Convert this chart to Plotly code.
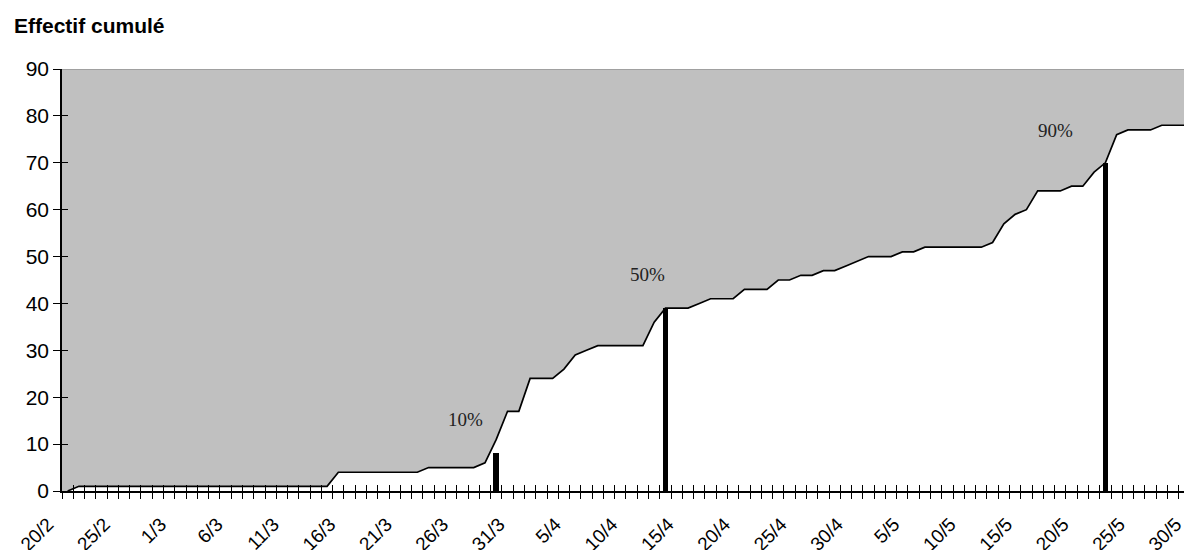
import pandas as pd
import plotly.graph_objects as go

# ---- data -------------------------------------------------------------
dates = [f"{d.day}/{d.month}" for d in pd.date_range("2000-02-20", "2000-05-30")]

cumul = [
    0,
    1, 1, 1, 1, 1, 1, 1, 1, 1, 1, 1, 1, 1, 1, 1, 1, 1, 1, 1, 1, 1, 1, 1,
    4, 4, 4, 4, 4, 4, 4, 4,
    5, 5, 5, 5, 5,
    6, 11, 17, 17,
    24, 24, 24,
    26, 29, 30,
    31, 31, 31, 31, 31,
    36, 39, 39, 39,
    40, 41, 41, 41,
    43, 43, 43,
    45, 45, 46, 46, 47, 47,
    48, 49,
    50, 50, 50, 51, 51,
    52, 52, 52, 52, 52, 52,
    53, 57, 59, 60,
    64, 64, 64, 65, 65,
    68, 70, 76,
    77, 77, 77,
    78, 78, 78, 78,
]

marker_dates = ["29/3", "13/4", "22/5"]
marker_values = [8, 39, 70]

pct_labels = ["10%", "50%", "90%"]
pct_dates = ["26/3", "11/4", "18/5"]
pct_levels = [15.3, 46.1, 76.8]

y_ticks = [0, 10, 20, 30, 40, 50, 60, 70, 80, 90]

# ---- derived positions / layout -----------------------------------------
idx = list(range(len(dates)))
bounds = [i - 0.5 for i in idx]
btext = [d if i % 5 == 0 else "" for i, d in enumerate(dates)]
mk_x = [dates.index(d) for d in marker_dates]
pct_shift = [0.3, 0.4, -0.4]
pct_x = [dates.index(d) + s for d, s in zip(pct_dates, pct_shift)]

OFF = 8  # default page body margin
L, T, B = 62 - OFF, 69 - OFF, 59
W, H = 1192 - OFF, 550 - OFF
PW, PH = W - L, H - T - B
XMAX = 99.68
SANS = "Liberation Sans, Arial, sans-serif"
SERIF = "Liberation Serif, Times New Roman, serif"

fig = go.Figure()
fig.add_trace(go.Scatter(
    x=idx, y=cumul, mode="lines",
    line=dict(color="black", width=1.7),
    fill="tozeroy", fillcolor="white",
    hoverinfo="skip",
))
# bars on the overlay subplot so they sit above the white fill
fig.add_trace(go.Bar(
    x=mk_x, y=marker_values, width=0.5, xaxis="x2", yaxis="y",
    marker=dict(color="black", line=dict(width=0)),
))
fig.add_trace(go.Scatter(x=[None], y=[None], xaxis="x", yaxis="y2", showlegend=False))

for t, x, y in zip(pct_labels, pct_x, pct_levels):
    fig.add_annotation(x=x, y=y, text=t, showarrow=False,
                       font=dict(family=SERIF, size=19, color="#222222"))

fig.add_annotation(xref="paper", yref="paper", x=(12 - OFF - L) / PW,
                   y=(H - B - (26 - OFF)) / PH,
                   xanchor="left", yanchor="middle", showarrow=False,
                   text="<b>Effectif cumulé</b>",
                   font=dict(family=SANS, size=21, color="black"))

fig.add_shape(type="line", xref="paper", yref="y", x0=0, x1=1, y0=90, y1=90,
              line=dict(color="#808080", width=1))

fig.update_layout(
    width=W, height=H, template="none",
    margin=dict(l=L, r=0, t=T, b=B, pad=0, autoexpand=False),
    paper_bgcolor="white", plot_bgcolor="#C0C0C0",
    showlegend=False, bargap=0,
    xaxis=dict(range=[-0.5, XMAX], tickmode="array", tickvals=bounds, ticktext=btext,
               ticks="inside", ticklen=6, tickcolor="black", tickwidth=1,
               tickangle=-45, tickfont=dict(family=SANS, size=19, color="black"),
               ticklabelshift=-14, ticklabelstandoff=13,
               showline=True, linecolor="black", linewidth=1.5,
               showgrid=False, zeroline=False, automargin=False),
    xaxis2=dict(range=[-0.5, XMAX], overlaying="x", anchor="y", side="bottom",
                tickmode="array", tickvals=bounds, ticks="outside", ticklen=7,
                tickcolor="black", tickwidth=1, showticklabels=False,
                showline=False, showgrid=False, zeroline=False, automargin=False),
    yaxis=dict(range=[0, 90], tickmode="array", tickvals=y_ticks,
               ticks="outside", ticklen=7, tickcolor="black", tickwidth=1,
               tickfont=dict(family=SANS, size=21, color="black"),
               showline=True, linecolor="black", linewidth=1.5,
               showgrid=False, zeroline=False, automargin=False),
    yaxis2=dict(range=[0, 90], overlaying="y", anchor="x", side="left",
                tickmode="array", tickvals=y_ticks, ticks="inside", ticklen=6,
                tickcolor="black", tickwidth=1, showticklabels=False,
                showline=False, showgrid=False, zeroline=False, automargin=False),
)

fig.write_html("out.html")
